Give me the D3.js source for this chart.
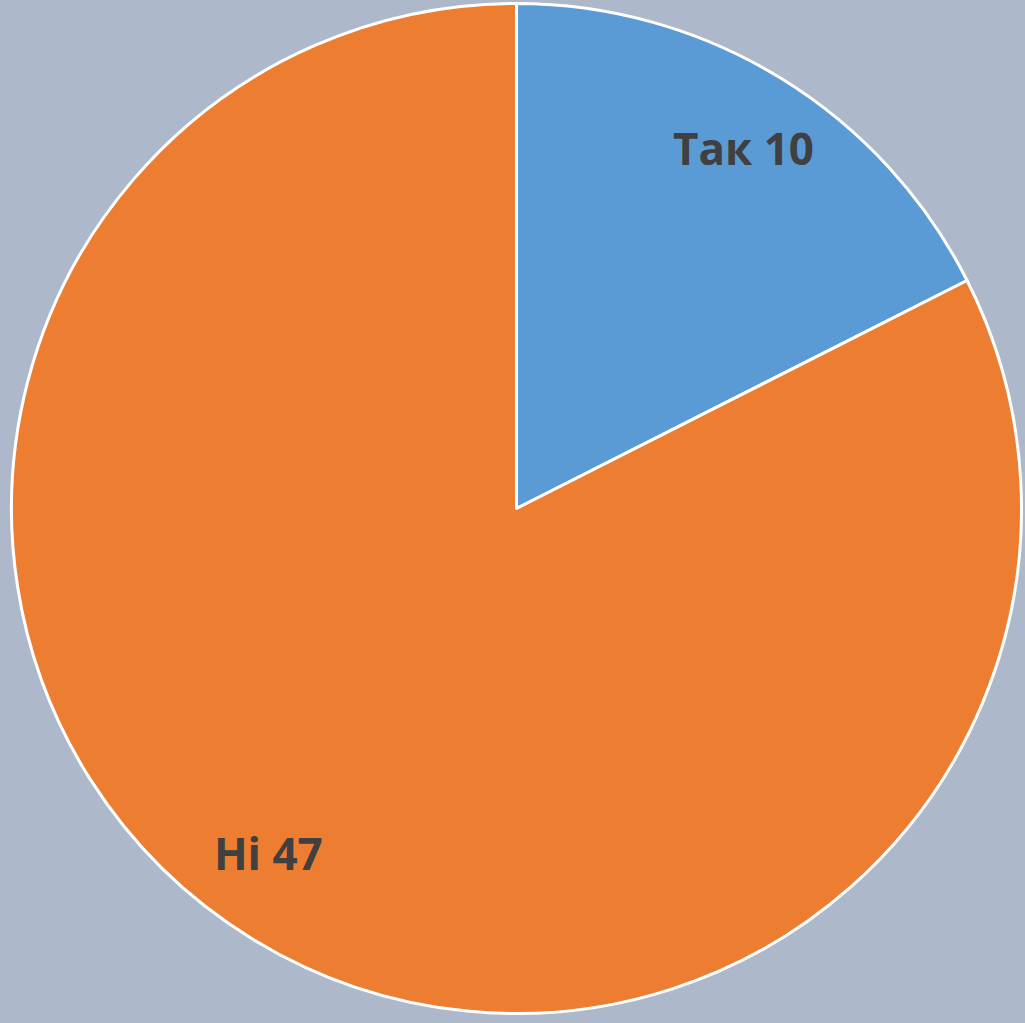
<!DOCTYPE html>
<html>
<head>
<meta charset="utf-8">
<script src="https://cdn.jsdelivr.net/npm/d3@7"></script>
<style>
  body { margin: 0; background: #ADB9CA; }
  svg { display: block; }
</style>
</head>
<body>
<script>
// data
var labels = ["Так", "Ні"];
var values = [10, 47];
var colours = ["#5B9BD5", "#ED7D31"];

var svgW = 1025;
var svgH = 1023;
var cx = 516.5, cy = 508.5;
var radius = 505;

var svg = d3.select("body")
    .append("svg")
    .attr("width", svgW)
    .attr("height", svgH);

svg.append("rect")
    .attr("width", svgW)
    .attr("height", svgH)
    .attr("fill", "#ADB9CA");

var g = svg.append("g")
    .attr("transform", "translate(" + cx + "," + cy + ")");

var pie = d3.pie().sort(null).value(function(d) { return d; });
var arcs = pie(values);

var arc = d3.arc().innerRadius(0).outerRadius(radius);

// label placement (best-fit style, nudged a little like excel does)
var labelR = radius * 0.842;
var nudge = [0.012, 0.072]; // radians

g.selectAll("path")
    .data(arcs)
    .enter()
    .append("path")
    .attr("d", arc)
    .attr("fill", function(d, i) { return colours[i]; })
    .attr("stroke", "#FFFFFF")
    .attr("stroke-width", 3)
    .attr("stroke-linejoin", "round");

g.selectAll("text")
    .data(arcs)
    .enter()
    .append("text")
    .attr("transform", function(d, i) {
        var a = (d.startAngle + d.endAngle) / 2 + nudge[i];
        return "translate(" + (Math.sin(a) * labelR) + "," + (-Math.cos(a) * labelR) + ")";
    })
    .attr("text-anchor", "middle")
    .attr("dy", "0.36em")
    .attr("font-family", "'Open Sans', sans-serif")
    .attr("font-weight", "bold")
    .attr("font-size", 44)
    .attr("fill", "#404040")
    .text(function(d, i) { return labels[i] + " " + values[i]; });
</script>
</body>
</html>
